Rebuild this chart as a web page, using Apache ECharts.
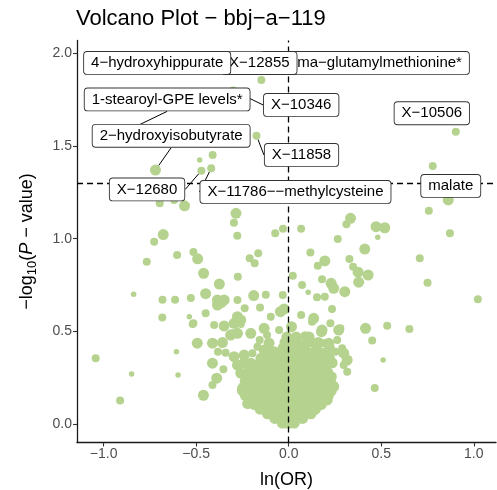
<!DOCTYPE html>
<html>
<head>
<meta charset="utf-8">
<script src="https://cdn.jsdelivr.net/npm/echarts@6/dist/echarts.min.js"></script>
<style>
html,body{margin:0;padding:0;background:#fff;}
#main{width:497px;height:490px;}
</style>
</head>
<body>
<div id="main"></div>
<script>
// ---------- DATA ----------
const titleText = 'Volcano Plot − bbj−a−119';
const xTicks = [-1.0, -0.5, 0.0, 0.5, 1.0];
const yTicks = [0.0, 0.5, 1.0, 1.5, 2.0];
const pThreshold = 1.30103; // -log10(0.05)

// scattered (non-core) metabolites
const outerLnOR = [
  -0.481, -0.411, 0.778, -0.697, -0.619, -0.563, -0.285, -0.296, -0.278, -0.031,
  -0.073, 0.067, 0.334, 0.312, 0.472, 0.519, 0.481, 0.265, 0.757, 0.871,
  -0.678, -0.727, -0.603, -0.515, -0.492, -0.767, -0.211, -0.184, -0.165, -0.460,
  -0.275, -0.375, 0.411, 0.117, 0.195, 0.157, 0.328, 0.348, 0.375, 0.429,
  0.378, 0.180, 0.229, 0.243, 0.303, 0.105, 0.153, 0.195, 0.022, 0.072,
  0.708, 0.750, 1.022, -0.838, -0.682, -0.614, -0.529, -0.449, -0.385, -0.349,
  -0.385, -0.365, -0.277, -0.189, -0.124, -0.032, -0.155, -0.683, -0.537, -0.515,
  -0.449, -0.277, -0.259, -0.045, -0.025, -0.097, -0.238, 0.234, 0.067, 0.135,
  0.225, 0.279, 0.415, 0.532, 0.652, 0.015, 0.180, 0.126, 0.270, 0.451,
  0.177, 0.216, 0.090, 0.117, 0.144, 0.051, 0.063, 0.126, 0.180, 0.252,
  0.297, 0.316, 0.297, 0.316, 0.510, 0.162, 0.243, 0.465, 0.208, 0.144,
  0.189, 0.262, 0.289, -1.043, -0.849, -0.911, -0.607, -0.598, -0.519, -0.494,
  -0.461, -0.412, -0.358, -0.382, -0.341, -0.412, -0.353, -0.389, -0.412, -0.250,
  -0.222, -0.403, -0.349, -0.295, -0.259, -0.314, -0.277, -0.205, -0.133, -0.052,
  -0.133, -0.079, -0.052, -0.295, -0.241, -0.277, -0.205, -0.169, -0.259, -0.187,
  -0.196, -0.169, -0.106, -0.351, -0.306, -0.157, -0.117
];
const outerLogP = [
  1.424, 1.452, 1.392, 1.191, 1.209, 1.177, 1.137, 1.086, 1.016, 1.053,
  1.029, 1.054, 1.110, 1.078, 1.065, 1.059, 1.008, 0.998, 1.151, 1.029,
  1.022, 0.984, 0.912, 0.928, 0.891, 0.876, 0.894, 0.868, 0.921, 0.813,
  0.794, 0.755, 0.944, 0.925, 0.880, 0.854, 0.890, 0.849, 0.819, 0.804,
  0.765, 0.781, 0.759, 0.732, 0.714, 0.711, 0.684, 0.687, 0.800, 0.750,
  0.894, 0.762, 0.673, 0.700, 0.671, 0.671, 0.680, 0.703, 0.669, 0.669,
  0.642, 0.655, 0.669, 0.693, 0.698, 0.696, 0.628, 0.574, 0.579, 0.543,
  0.597, 0.579, 0.561, 0.606, 0.620, 0.579, 0.624, 0.621, 0.588, 0.570,
  0.543, 0.516, 0.516, 0.530, 0.513, 0.525, 0.507, 0.552, 0.507, 0.450,
  0.498, 0.436, 0.471, 0.444, 0.426, 0.436, 0.399, 0.382, 0.382, 0.390,
  0.382, 0.345, 0.318, 0.282, 0.345, 0.291, 0.201, 0.194, 0.130, 0.063,
  0.436, 0.453, 0.409, 0.355, 0.270, 0.126, 0.390, 0.264, 0.540, 0.436,
  0.155, 0.436, 0.439, 0.390, 0.385, 0.328, 0.295, 0.247, 0.210, 0.190,
  0.110, 0.534, 0.529, 0.543, 0.540, 0.480, 0.489, 0.489, 0.516, 0.507,
  0.399, 0.390, 0.328, 0.363, 0.372, 0.318, 0.328, 0.309, 0.274, 0.264,
  0.382, 0.417, 0.436, 0.525, 0.489, 0.453, 0.480
];
const outerWeight = [
  1, 2, 2, 2, 2, 3, 3, 2, 2, 2,
  2, 2, 3, 2, 3, 3, 1, 2, 2, 2,
  3, 2, 2, 2, 3, 2, 2, 2, 2, 3,
  2, 3, 3, 2, 3, 2, 2, 2, 3, 3,
  3, 2, 3, 3, 3, 1, 2, 2, 2, 2,
  2, 2, 2, 1, 2, 2, 2, 3, 3, 3,
  3, 3, 2, 3, 2, 2, 2, 2, 1, 2,
  2, 3, 3, 3, 3, 2, 2, 2, 2, 3,
  2, 2, 3, 2, 2, 3, 3, 2, 3, 2,
  3, 3, 3, 3, 2, 2, 2, 3, 3, 2,
  3, 3, 2, 2, 1, 3, 3, 2, 3, 1,
  2, 2, 2, 2, 1, 2, 1, 1, 2, 3,
  3, 3, 3, 2, 2, 3, 2, 3, 2, 3,
  3, 2, 3, 3, 2, 3, 3, 3, 3, 2,
  3, 3, 1, 3, 3, 3, 3, 3, 3, 3,
  2, 2, 3, 2, 2, 2, 2
];

// dense core near the origin, read row by row
const coreLogP = [0.005, 0.03, 0.055, 0.08, 0.105, 0.13, 0.155, 0.18, 0.205, 0.23, 0.255, 0.28, 0.305, 0.33, 0.355, 0.38, 0.41, 0.44, 0.47];
const coreLnOR = [
  [-0.035, -0.012, 0.008, 0.03],
  [-0.075, -0.05, -0.025, 0.0, 0.025, 0.05, 0.075],
  [-0.115, -0.09, -0.06, -0.035, -0.01, 0.015, 0.04, 0.065, 0.09, 0.12],
  [-0.155, -0.125, -0.095, -0.065, -0.035, -0.005, 0.025, 0.055, 0.085, 0.115, 0.145],
  [-0.185, -0.155, -0.125, -0.095, -0.065, -0.035, -0.005, 0.025, 0.055, 0.085, 0.115, 0.145, 0.175],
  [-0.215, -0.185, -0.155, -0.125, -0.095, -0.065, -0.035, -0.005, 0.025, 0.055, 0.085, 0.115, 0.145, 0.175, 0.2],
  [-0.235, -0.205, -0.175, -0.145, -0.115, -0.085, -0.055, -0.025, 0.005, 0.035, 0.065, 0.095, 0.125, 0.155, 0.185, 0.215],
  [-0.25, -0.22, -0.19, -0.16, -0.13, -0.1, -0.07, -0.04, -0.01, 0.02, 0.05, 0.08, 0.11, 0.14, 0.17, 0.2, 0.23],
  [-0.24, -0.21, -0.18, -0.15, -0.12, -0.09, -0.06, -0.03, 0.0, 0.03, 0.06, 0.09, 0.12, 0.15, 0.18, 0.21, 0.24],
  [-0.235, -0.2, -0.17, -0.14, -0.11, -0.08, -0.05, -0.02, 0.01, 0.04, 0.07, 0.1, 0.13, 0.16, 0.19, 0.225],
  [-0.21, -0.175, -0.145, -0.115, -0.085, -0.055, -0.025, 0.005, 0.035, 0.065, 0.095, 0.125, 0.155, 0.19, 0.23],
  [-0.2, -0.165, -0.13, -0.1, -0.07, -0.04, -0.01, 0.02, 0.05, 0.08, 0.11, 0.14, 0.175, 0.21],
  [-0.215, -0.175, -0.14, -0.105, -0.07, -0.035, 0.0, 0.035, 0.07, 0.105, 0.14, 0.18],
  [-0.24, -0.155, -0.115, -0.08, -0.03, 0.01, 0.045, 0.08, 0.12, 0.16, 0.2, 0.235],
  [-0.15, -0.11, -0.06, -0.02, 0.02, 0.055, 0.09, 0.13, 0.175, 0.22],
  [-0.04, 0.0, 0.035, 0.075, 0.11, 0.15, 0.2],
  [-0.03, 0.01, 0.04, 0.085, 0.15, 0.22],
  [-0.02, 0.03, 0.10, 0.16],
  [-0.01, 0.04, 0.11]
];
const coreWeight = [3, 3, 3, 3, 3, 3, 3, 3, 3, 3, 3, 3, 3, 3, 3, 3, 3, 3, 3];

// labelled metabolites (drawn in this order)
const labelNames = ['gamma−glutamylmethionine*', 'X−12855', '4−hydroxyhippurate', '1-stearoyl-GPE levels*', 'X−10346', 'X−10506', '2−hydroxyisobutyrate', 'X−11858', 'X−12680', 'X−11786−−methylcysteine', 'malate'];
const labelLnOR = [0.35, -0.148, -0.70, -0.90, -0.30, 0.903, -0.72, -0.174, -0.472, -0.419, 0.862];
const labelLogP = [1.99, 1.856, 1.97, 1.57, 1.80, 1.577, 1.37, 1.556, 1.367, 1.380, 1.209];
const labelWeight = [2, 2, 2, 2, 2, 2, 3, 2, 2, 2, 3];

// ---------- LAYOUT / STYLE (not data) ----------
const labelOffsets = [[11.5, 7.7], [-2, -17], [-2, 4], [45, -33.6], [68, 14.5], [-24, -18.5], [15.7, -34.3], [45, 19.3], [-54.3, 18.8], [84.3, 23.7], [2.5, -14]];
const labelHasLine = [false, false, false, true, true, false, true, true, true, true, false];
const sizeByWeight = {1: 5.5, 2: 8, 3: 11};
const pointColor = '#b5d38f';
const FONT = '"Liberation Sans", Arial, Helvetica, sans-serif';

// ---------- BUILD ----------
const mainData = [];
for (let i = 0; i < outerLnOR.length; i++) mainData.push([outerLnOR[i], outerLogP[i], outerWeight[i]]);
coreLnOR.forEach((row, r) => row.forEach(x => mainData.push([x, coreLogP[r], coreWeight[r]])));

const labelData = labelNames.map((n, i) => ({
  name: n,
  value: [labelLnOR[i], labelLogP[i], labelWeight[i]],
  labelLine: {show: labelHasLine[i]}
}));

const minus = s => String(s).replace('-', '−');

const chart = echarts.init(document.getElementById('main'), null, {renderer: 'canvas'});
chart.setOption({
  animation: false,
  textStyle: {fontFamily: FONT},
  title: {
    text: titleText,
    left: 76, top: 8, padding: 0,
    textStyle: {fontSize: 22, fontWeight: 'normal', color: '#000', fontFamily: FONT}
  },
  grid: {left: 77, right: 1, top: 40.4, bottom: 47.5, containLabel: false, outerBoundsMode: 'none'},
  xAxis: {
    type: 'value', min: -1.144, max: 1.12,
    splitLine: {show: false},
    axisLine: {show: true, onZero: false, lineStyle: {color: '#1a1a1a', width: 1.3}},
    axisTick: {show: true, length: 4, customValues: xTicks, lineStyle: {color: '#333', width: 1.1}},
    axisLabel: {customValues: xTicks, formatter: v => minus(v.toFixed(1)), color: '#4d4d4d', fontSize: 14, margin: 5, fontFamily: FONT},
    name: 'ln(OR)', nameLocation: 'middle', nameGap: 29,
    nameTextStyle: {fontSize: 18, color: '#000', fontFamily: FONT}
  },
  yAxis: {
    type: 'value', min: -0.1, max: 2.07,
    splitLine: {show: false},
    axisLine: {show: true, onZero: false, lineStyle: {color: '#1a1a1a', width: 1.3}},
    axisTick: {show: true, length: 4, customValues: yTicks, lineStyle: {color: '#333', width: 1.1}},
    axisLabel: {customValues: yTicks, formatter: v => v.toFixed(1), color: '#4d4d4d', fontSize: 14, margin: 5, fontFamily: FONT},
    name: '{a|−log}{s|10}{a|(}{i|P}{a| − value)}',
    nameLocation: 'middle', nameGap: 38, nameRotate: 90,
    nameTextStyle: {
      color: '#000', fontSize: 18, fontFamily: FONT,
      rich: {
        a: {fontSize: 18, color: '#000', fontFamily: FONT},
        i: {fontSize: 18, color: '#000', fontStyle: 'italic', fontFamily: FONT},
        s: {fontSize: 13, color: '#000', padding: [11, 0, 0, 0], fontFamily: FONT}
      }
    }
  },
  series: [
    {
      type: 'scatter',
      z: 2,
      data: mainData,
      symbol: 'circle',
      symbolSize: v => sizeByWeight[v[2]],
      itemStyle: {color: pointColor, opacity: 1},
      emphasis: {disabled: true},
      silent: true,
      markLine: {
        silent: true,
        symbol: ['none', 'none'],
        label: {show: false},
        lineStyle: {color: '#000', type: [6, 4], width: 1.3},
        emphasis: {disabled: true},
        data: [{xAxis: 0}, {yAxis: pThreshold}]
      }
    },
    {
      type: 'scatter',
      z: 10,
      data: labelData,
      symbol: 'circle',
      symbolSize: v => sizeByWeight[v[2]],
      itemStyle: {color: pointColor, opacity: 1},
      emphasis: {disabled: true},
      silent: true,
      label: {
        show: true, position: 'inside', formatter: '{b}',
        color: '#000', fontSize: 15, lineHeight: 16, fontFamily: FONT,
        backgroundColor: '#fff', borderColor: '#333', borderWidth: 0.9, borderRadius: 3,
        padding: [3, 7, 3, 7]
      },
      labelLine: {show: true, lineStyle: {color: '#000', width: 1}},
      labelLayout: p => ({dx: labelOffsets[p.dataIndex][0], dy: labelOffsets[p.dataIndex][1], hideOverlap: false})
    }
  ]
});
</script>
</body>
</html>
